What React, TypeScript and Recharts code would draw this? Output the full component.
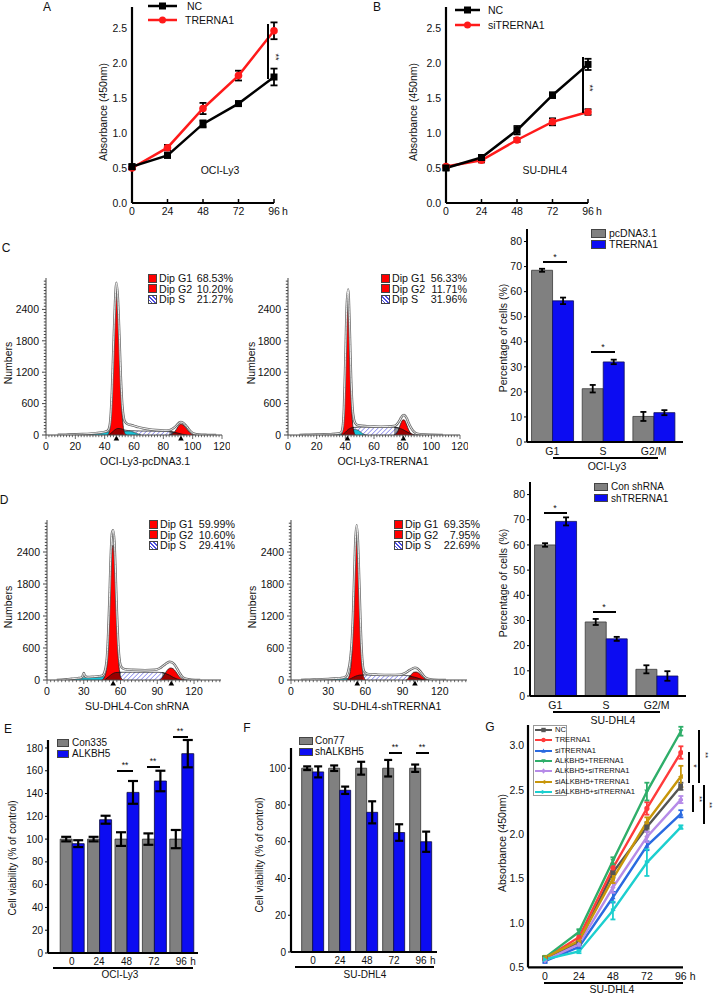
import React from 'react';
import {
  ComposedChart, LineChart, BarChart, Line, Bar, Area, XAxis, YAxis, ErrorBar, ReferenceDot,
} from 'recharts';

const FONT = '"Liberation Sans", Arial, Helvetica, sans-serif';

// A, B: absorbance (450nm) by hour
const hours = ['0', '24', '48', '72', '96'];
const absTicks = [0, 0.5, 1, 1.5, 2, 2.5];
const aNC = [0.52, 0.68, 1.13, 1.42, 1.8];
const aNCErr = [0.03, 0.03, 0.05, 0.03, 0.12];
const aTRERNA1 = [0.5, 0.79, 1.35, 1.82, 2.46];
const aTRERNA1Err = [0.02, 0.04, 0.08, 0.07, 0.12];
const bNC = [0.5, 0.65, 1.04, 1.54, 1.98];
const bNCErr = [0.03, 0.03, 0.06, 0.04, 0.08];
const bSiTRERNA1 = [0.52, 0.61, 0.9, 1.16, 1.3];
const bSiTRERNA1Err = [0.02, 0.03, 0.03, 0.05, 0.04];

// C, D: histogram legend percentages (G1, G2, S)
const c1Pct = [68.53, 10.2, 21.27];
const c2Pct = [56.33, 11.71, 31.96];
const d1Pct = [59.99, 10.6, 29.41];
const d2Pct = [69.35, 7.95, 22.69];

// DNA content histograms, [channel, count]
type Pt = [number, number];
const c1Total: Pt[] = [[8, 3], [15, 8], [20, 12], [25, 18], [30, 26], [35, 40], [40, 60], [42, 80], [43, 130], [44, 330], [45, 880], [46, 1700], [47, 2480], [48, 2910], [49, 2620], [50, 1920], [51, 1120], [52, 580], [53, 330], [54, 250], [56, 205], [58, 190], [60, 175], [63, 150], [66, 130], [70, 110], [75, 95], [80, 88], [84, 92], [86, 115], [88, 155], [90, 215], [91, 240], [92, 248], [93, 242], [95, 195], [97, 125], [99, 60], [101, 25], [104, 8], [110, 2], [116, 0]];
const c1G1: Pt[] = [[42, 0], [43, 40], [44, 250], [45, 800], [46, 1600], [47, 2350], [48, 2700], [49, 2400], [50, 1750], [51, 950], [52, 380], [53, 100], [54, 20], [55, 0]];
const c1G2: Pt[] = [[84, 0], [86, 20], [88, 70], [90, 160], [91, 195], [92, 210], [93, 200], [95, 150], [97, 80], [99, 25], [101, 0]];
const c1S: Pt[] = [[43, 0], [45, 50], [47, 100], [49, 125], [51, 120], [53, 100], [56, 85], [60, 80], [65, 76], [70, 74], [75, 72], [80, 70], [84, 66], [87, 55], [90, 35], [93, 14], [96, 0]];
const c1Debris: Pt[] = [[18, 0], [22, 8], [26, 18], [30, 28], [35, 40], [40, 55], [44, 62], [48, 60], [52, 70], [56, 75], [59, 60], [62, 30], [65, 0]];
const c1Peaks = [48, 92];

const c2Total: Pt[] = [[8, 2], [15, 5], [20, 8], [25, 12], [30, 16], [35, 28], [37, 45], [38, 120], [39, 480], [40, 1420], [41, 2480], [42, 2780], [43, 2100], [44, 1100], [45, 520], [46, 300], [47, 225], [48, 195], [50, 180], [55, 168], [60, 162], [65, 160], [70, 162], [74, 172], [76, 205], [78, 285], [79, 335], [80, 372], [81, 380], [82, 360], [83, 310], [84, 240], [86, 130], [88, 60], [90, 25], [95, 8], [100, 3], [108, 0]];
const c2G1: Pt[] = [[37, 0], [38, 60], [39, 400], [40, 1300], [41, 2300], [42, 2480], [43, 1750], [44, 800], [45, 250], [46, 60], [47, 0]];
const c2G2: Pt[] = [[74, 0], [76, 40], [77, 90], [78, 170], [79, 240], [80, 285], [81, 290], [82, 250], [83, 180], [84, 110], [85, 55], [87, 10], [88, 0]];
const c2S: Pt[] = [[38, 0], [40, 50], [42, 105], [44, 135], [46, 145], [50, 150], [55, 150], [60, 150], [65, 150], [70, 150], [74, 148], [77, 135], [80, 105], [83, 60], [86, 20], [89, 0]];
const c2Debris: Pt[] = [[28, 0], [32, 8], [36, 20], [40, 40], [43, 70], [45, 95], [47, 105], [49, 90], [51, 50], [53, 12], [55, 0]];
const c2Peaks = [41.5, 80.5];

const d1Total: Pt[] = [[8, 0], [12, 5], [16, 12], [20, 22], [25, 35], [28, 45], [29, 70], [30, 130], [31, 75], [33, 55], [38, 62], [42, 70], [45, 80], [47, 150], [49, 450], [50, 900], [51, 1550], [52, 2300], [53, 2750], [54, 2810], [55, 2600], [56, 2000], [57, 1300], [58, 750], [59, 420], [60, 280], [62, 215], [65, 195], [70, 190], [80, 185], [88, 190], [92, 220], [95, 270], [98, 320], [100, 340], [102, 330], [104, 290], [106, 220], [108, 140], [110, 70], [113, 25], [118, 6], [125, 0]];
const d1G1: Pt[] = [[45, 0], [47, 60], [49, 300], [50, 700], [51, 1300], [52, 2000], [53, 2450], [54, 2530], [55, 2300], [56, 1750], [57, 1050], [58, 500], [59, 200], [60, 60], [62, 0]];
const d1G2: Pt[] = [[92, 0], [94, 40], [96, 110], [98, 180], [100, 220], [101, 225], [103, 210], [105, 160], [107, 90], [109, 35], [111, 10], [113, 0]];
const d1S: Pt[] = [[47, 0], [50, 55], [53, 110], [56, 140], [60, 145], [70, 145], [80, 145], [90, 145], [94, 140], [97, 120], [100, 90], [103, 50], [106, 20], [110, 0]];
const d1Debris: Pt[] = [[12, 0], [16, 8], [20, 18], [25, 30], [30, 40], [35, 48], [40, 55], [45, 62], [48, 55], [50, 30], [52, 0]];
const d1Peaks = [54, 101.5];

const d2Total: Pt[] = [[8, 0], [15, 5], [20, 10], [25, 14], [30, 20], [35, 26], [40, 35], [44, 60], [46, 150], [48, 420], [49, 700], [50, 1200], [51, 1950], [52, 2650], [53, 2900], [54, 2600], [55, 1900], [56, 1150], [57, 560], [58, 260], [59, 160], [61, 120], [65, 105], [70, 100], [80, 95], [88, 100], [92, 130], [95, 175], [98, 215], [100, 230], [102, 215], [104, 170], [106, 110], [108, 55], [111, 20], [115, 5], [125, 0]];
const d2G1: Pt[] = [[45, 0], [47, 80], [49, 450], [50, 950], [51, 1700], [52, 2400], [53, 2660], [54, 2350], [55, 1650], [56, 900], [57, 380], [58, 120], [60, 0]];
const d2G2: Pt[] = [[93, 0], [95, 40], [97, 100], [99, 145], [101, 150], [103, 130], [105, 85], [107, 40], [109, 10], [111, 0]];
const d2S: Pt[] = [[46, 0], [49, 35], [52, 70], [55, 90], [58, 95], [65, 93], [75, 90], [85, 90], [91, 88], [95, 78], [98, 62], [101, 45], [104, 22], [108, 0]];
const d2Debris: Pt[] = [[15, 0], [20, 6], [25, 12], [30, 17], [35, 22], [40, 28], [44, 32], [47, 30], [49, 15], [51, 0]];
const d2Peaks = [53.5, 100];

const histYTicks = [0, 600, 1200, 1800, 2400];
const cHistXTicks = [0, 20, 40, 60, 80, 100, 120];
const dHistXTicks = [0, 30, 60, 90, 120];

// C, D bar charts: % of cells per phase
const phases = ['G1', 'S', 'G2/M'];
const pctTicks = [0, 10, 20, 30, 40, 50, 60, 70, 80];
const cPcDNA = [68.53, 21.27, 10.2];
const cPcDNAErr = [0.6, 1.5, 1.8];
const cTRERNA1 = [56.33, 31.96, 11.71];
const cTRERNA1Err = [1.3, 0.9, 1.0];
const dConShRNA = [59.99, 29.41, 10.6];
const dConShRNAErr = [0.7, 1.2, 1.6];
const dShTRERNA1 = [69.35, 22.69, 7.95];
const dShTRERNA1Err = [1.6, 0.8, 1.9];

// E, F: cell viability (% of control)
const eCon335 = [100, 100, 100, 100, 100];
const eCon335Err = [2, 2, 6, 5, 8];
const eALKBH5 = [96, 117, 141, 151, 175];
const eALKBH5Err = [3, 3.5, 10, 9, 12];
const fCon77 = [100, 100, 100, 100, 100];
const fCon77Err = [1, 1.5, 3.5, 4.5, 2];
const fShALKBH5 = [98, 88, 76, 65, 60];
const fShALKBH5Err = [3, 2, 6, 4.5, 5.5];

// G: absorbance, seven groups
const gHours = [0, 24, 48, 72, 96];
const gTicks = [0.5, 1, 1.5, 2, 2.5, 3];
const gNC = [0.6, 0.78, 1.57, 2.08, 2.54];
const gNCErr = [0.02, 0.03, 0.06, 0.05, 0.04];
const gTRERNA1 = [0.6, 0.84, 1.62, 2.29, 2.92];
const gTRERNA1Err = [0.02, 0.03, 0.05, 0.07, 0.07];
const gSiTRERNA1 = [0.57, 0.73, 1.29, 1.87, 2.23];
const gSiTRERNA1Err = [0.02, 0.02, 0.06, 0.05, 0.04];
const gAlkTRERNA1 = [0.61, 0.9, 1.7, 2.48, 3.16];
const gAlkTRERNA1Err = [0.02, 0.03, 0.04, 0.1, 0.05];
const gAlkSiTRERNA1 = [0.58, 0.76, 1.4, 1.97, 2.39];
const gAlkSiTRERNA1Err = [0.02, 0.02, 0.06, 0.06, 0.04];
const gSiAlkTRERNA1 = [0.61, 0.8, 1.5, 2.14, 2.65];
const gSiAlkTRERNA1Err = [0.02, 0.03, 0.05, 0.05, 0.12];
const gSiAlkSiTRERNA1 = [0.59, 0.68, 1.14, 1.68, 2.08];
const gSiAlkSiTRERNA1Err = [0.02, 0.02, 0.1, 0.15, 0.02];

const gSeries = [
  { key: 'nc', name: 'NC', vals: gNC, errs: gNCErr, color: '#555555', shape: 'square' },
  { key: 'tr', name: 'TRERNA1', vals: gTRERNA1, errs: gTRERNA1Err, color: '#ff3b3b', shape: 'circle' },
  { key: 'si', name: 'siTRERNA1', vals: gSiTRERNA1, errs: gSiTRERNA1Err, color: '#2a6ae0', shape: 'up' },
  { key: 'at', name: 'ALKBH5+TRERNA1', vals: gAlkTRERNA1, errs: gAlkTRERNA1Err, color: '#2fae6a', shape: 'down' },
  { key: 'as', name: 'ALKBH5+siTRERNA1', vals: gAlkSiTRERNA1, errs: gAlkSiTRERNA1Err, color: '#b68be8', shape: 'diamond' },
  { key: 'st', name: 'siALKBH5+TRERNA1', vals: gSiAlkTRERNA1, errs: gSiAlkTRERNA1Err, color: '#c8960a', shape: 'left' },
  { key: 'ss', name: 'siALKBH5+siTRERNA1', vals: gSiAlkSiTRERNA1, errs: gSiAlkSiTRERNA1Err, color: '#1ccfcf', shape: 'right' },
];

const GRAY = '#808080';
const BLUE = '#0c0cf2';

const range = (a: number, b: number, step: number) => {
  const r: number[] = [];
  for (let v = a; v <= b + 1e-9; v += step) r.push(+v.toFixed(4));
  return r;
};
const pts = (a: Pt[]) => a.map(([ch, n]) => ({ ch, n }));

function mark(shape: string, cx: number, cy: number, r: number, color: string, key?: any) {
  switch (shape) {
    case 'square':
      return <rect key={key} x={cx - r} y={cy - r} width={2 * r} height={2 * r} fill={color} />;
    case 'circle':
      return <circle key={key} cx={cx} cy={cy} r={r} fill={color} />;
    case 'up':
      return <polygon key={key} points={`${cx},${cy - r * 1.1} ${cx + r},${cy + r * 0.8} ${cx - r},${cy + r * 0.8}`} fill={color} />;
    case 'down':
      return <polygon key={key} points={`${cx},${cy + r * 1.1} ${cx + r},${cy - r * 0.8} ${cx - r},${cy - r * 0.8}`} fill={color} />;
    case 'left':
      return <polygon key={key} points={`${cx - r * 1.1},${cy} ${cx + r * 0.8},${cy - r} ${cx + r * 0.8},${cy + r}`} fill={color} />;
    case 'right':
      return <polygon key={key} points={`${cx + r * 1.1},${cy} ${cx - r * 0.8},${cy - r} ${cx - r * 0.8},${cy + r}`} fill={color} />;
    default:
      return <polygon key={key} points={`${cx},${cy - r * 1.2} ${cx + r},${cy} ${cx},${cy + r * 1.2} ${cx - r},${cy}`} fill={color} />;
  }
}

// ticks drawn by hand so label gaps and tick lengths can be set
const catTick = (o: { gap: number; size?: number; up?: number; hAfter?: number }) => (p: any) => {
  const v = String(p.payload.value);
  const fs = o.size ?? 10.5;
  return (
    <g>
      {o.up ? <line x1={p.x} x2={p.x} y1={p.y} y2={p.y - o.up} stroke="#000" strokeWidth={1.5} /> : null}
      <text x={p.x} y={p.y + o.gap} dy="0.71em" textAnchor="middle" fontSize={fs} fill="#111">{v}</text>
      {o.hAfter && v === '96' ? (
        <text x={p.x + o.hAfter} y={p.y + o.gap} dy="0.71em" textAnchor="start" fontSize={fs} fill="#111">h</text>
      ) : null}
    </g>
  );
};

const valTick = (o: { gap: number; fmt?: (v: number) => string; size?: number; len?: number; majors?: number[]; minorLen?: number; stroke?: string }) => (p: any) => {
  const v = Number(p.payload.value);
  const major = !o.majors || o.majors.includes(v);
  const len = major ? o.len ?? 0 : o.minorLen ?? 0;
  return (
    <g>
      {len ? <line x1={p.x} x2={p.x - len} y1={p.y} y2={p.y} stroke={o.stroke ?? '#000'} strokeWidth={1} /> : null}
      {major ? (
        <text x={p.x - o.gap} y={p.y} dy="0.355em" textAnchor="end" fontSize={o.size ?? 10.5} fill="#111">
          {o.fmt ? o.fmt(v) : v}
        </text>
      ) : null}
    </g>
  );
};

const histXTick = (majors: number[]) => (p: any) => {
  const v = Number(p.payload.value);
  const m = majors.includes(v);
  return (
    <g>
      <line x1={p.x} x2={p.x} y1={p.y} y2={p.y + (m ? 4 : 2.2)} stroke="#444" strokeWidth={0.8} />
      {m ? <text x={p.x} y={p.y + 8} dy="0.71em" textAnchor="middle" fontSize={10.5} fill="#111">{v}</text> : null}
    </g>
  );
};

// HTML helpers for labels and annotations
function T({ x, y, s = 10.5, a = 'm', r = 0, children }: any) {
  const tx = a === 's' ? '0' : a === 'e' ? '-100%' : '-50%';
  return (
    <div style={{ position: 'absolute', left: x, top: y, transform: `translate(${tx},-50%)${r ? ` rotate(${r}deg)` : ''}`, fontSize: s, lineHeight: 1, whiteSpace: 'nowrap' }}>
      {children}
    </div>
  );
}
const HL = ({ x1, x2, y, w = 1.3 }: any) => (
  <div style={{ position: 'absolute', left: x1, top: y - w / 2, width: x2 - x1, height: w, background: '#000' }} />
);
const VL = ({ x, y1, y2, w = 1.3 }: any) => (
  <div style={{ position: 'absolute', left: x - w / 2, top: y1, width: w, height: y2 - y1, background: '#000' }} />
);
const Swatch = ({ x, y, w = 13, h = 8, fill }: any) => (
  <div style={{ position: 'absolute', left: x, top: y - h / 2, width: w, height: h, background: fill, boxSizing: 'border-box', border: '1px solid #444' }} />
);
function LineKey({ x1, x2, y, color, shape, r = 3.5, sw = 2.5 }: any) {
  const w = x2 - x1;
  return (
    <svg style={{ position: 'absolute', left: x1, top: y - 6 }} width={w} height={12}>
      <line x1={0} x2={w} y1={6} y2={6} stroke={color} strokeWidth={sw} />
      {mark(shape, w / 2, 6, r, color)}
    </svg>
  );
}

function AbsPanel({ px, py, nc, ncErr, trt, trtErr }: any) {
  const pw = 142, ph = 196, yw = 40, xh = 26, mt = 8, mr = 14;
  const data = hours.map((h, i) => ({ h, nc: nc[i], ncE: ncErr[i], t: trt[i], tE: trtErr[i] }));
  return (
    <div style={{ position: 'absolute', left: px - yw, top: py - mt }}>
      <LineChart width={yw + pw + mr} height={mt + ph + xh} data={data} margin={{ top: mt, right: mr, left: 0, bottom: 0 }}>
        <XAxis dataKey="h" height={xh} interval={0} tickLine={false} tickSize={0} tickMargin={0}
          axisLine={{ stroke: '#000', strokeWidth: 2.2 }} tick={catTick({ gap: 5, up: 4, hAfter: 8 })} />
        <YAxis type="number" domain={[0, 2.8]} ticks={absTicks} width={yw} interval={0} tickLine={false} tickSize={0} tickMargin={0}
          axisLine={{ stroke: '#000', strokeWidth: 2.2 }} tick={valTick({ gap: 5, fmt: (v) => v.toFixed(1) })} />
        <Line dataKey="t" stroke="#ff1a1a" strokeWidth={2.5} isAnimationActive={false}
          dot={(p: any) => mark('circle', p.cx, p.cy, 3.8, '#ff1a1a', p.index)}>
          <ErrorBar dataKey="tE" width={3.5} strokeWidth={1.8} stroke="#000" />
        </Line>
        <Line dataKey="nc" stroke="#000" strokeWidth={2.5} isAnimationActive={false}
          dot={(p: any) => mark('square', p.cx, p.cy, 3.5, '#000', p.index)}>
          <ErrorBar dataKey="ncE" width={3.5} strokeWidth={1.8} stroke="#000" />
        </Line>
      </LineChart>
    </div>
  );
}

function Hist({ px, py, pw, ph, xMax, majors, minorStep, total, g1, g2, s, debris, peaks }: any) {
  const yw = 44, xh = 24, mt = 6, mr = 8;
  const xt = range(0, xMax, minorStep);
  const yt = range(0, 2940, 60);
  const between = (a: Pt[], lo: number, hi: number) => a.filter(([c]) => c >= lo && c <= hi);
  const sUnderG1 = between(s, g1[0][0], g1[g1.length - 1][0]);
  const sUnderG2 = between(s, g2[0][0], g2[g2.length - 1][0]);
  const area = (d: Pt[], fill: string, stroke: string, sw: number, op = 1) => (
    <Area data={pts(d)} dataKey="n" type="monotone" fill={fill} fillOpacity={op} stroke={stroke} strokeWidth={sw}
      isAnimationActive={false} dot={false} activeDot={false} />
  );
  return (
    <div style={{ position: 'absolute', left: px - yw, top: py - mt }}>
      <ComposedChart width={yw + pw + mr} height={mt + ph + xh} margin={{ top: mt, right: mr, left: 0, bottom: 0 }}>
        <XAxis type="number" dataKey="ch" domain={[0, xMax]} ticks={xt} interval={0} height={xh} allowDataOverflow
          tickLine={false} tickSize={0} tickMargin={0} axisLine={{ stroke: '#444', strokeWidth: 1 }} tick={histXTick(majors)} />
        <YAxis type="number" domain={[0, 3000]} ticks={yt} interval={0} width={yw} allowDataOverflow
          tickLine={false} tickSize={0} tickMargin={0} axisLine={{ stroke: '#444', strokeWidth: 1 }}
          tick={valTick({ gap: 7, majors: histYTicks, len: 4, minorLen: 2.2, stroke: '#444' })} />
        {area(s, 'url(#hatch)', '#333', 0.8)}
        {area(debris, '#16c4d8', '#333', 0.6)}
        {area(g1, '#ff0000', '#222', 0.8)}
        {area(g2, '#ff0000', '#222', 0.8)}
        {area(sUnderG1, '#000', '#111', 0.8, 0.4)}
        {area(sUnderG2, '#000', '#111', 0.8, 0.4)}
        <Line data={pts(total)} dataKey="n" type="monotone" stroke="#6a6a6a" strokeWidth={2.5} dot={false} activeDot={false} isAnimationActive={false} />
        <Line data={pts(total)} dataKey="n" type="monotone" stroke="#ffffff" strokeWidth={0.9} dot={false} activeDot={false} isAnimationActive={false} />
        {peaks.map((c: number) => (
          <ReferenceDot key={c} x={c} y={0} r={0} ifOverflow="visible"
            shape={(q: any) => <path d={`M${q.cx},${q.cy + 0.5} L${q.cx + 2.8},${q.cy + 5.5} L${q.cx - 2.8},${q.cy + 5.5} Z`} fill="#000" />} />
        ))}
      </ComposedChart>
    </div>
  );
}

function HistLegend({ x, y, right, pct }: any) {
  const rows = [
    { label: 'Dip G1', fill: '#ff0000', v: pct[0] },
    { label: 'Dip G2', fill: '#ff0000', v: pct[1] },
    { label: 'Dip S', fill: 'repeating-linear-gradient(45deg,#fff 0 1.5px,#4d4de0 1.5px 2.7px)', v: pct[2] },
  ];
  return (
    <>
      {rows.map((r, i) => (
        <React.Fragment key={r.label}>
          <Swatch x={x} y={y + i * 10.7} w={9} h={9} fill={r.fill} />
          <T x={x + 11} y={y + i * 10.7} a="s" s={10.7}>{r.label}</T>
          <T x={right} y={y + i * 10.7} a="e" s={10.7}>{r.v.toFixed(2)}%</T>
        </React.Fragment>
      ))}
    </>
  );
}

function PhaseBars({ px, py, ph, ctrl, ctrlErr, trt, trtErr }: any) {
  const pw = 156, yw = 40, xh = 24, mt = 8, mr = 8;
  const data = phases.map((p, i) => ({ p, a: ctrl[i], ae: ctrlErr[i], b: trt[i], be: trtErr[i] }));
  return (
    <div style={{ position: 'absolute', left: px - yw, top: py - mt }}>
      <BarChart width={yw + pw + mr} height={mt + ph + xh} data={data} margin={{ top: mt, right: mr, left: 0, bottom: 0 }}
        barGap={0} barCategoryGap="9%">
        <XAxis dataKey="p" height={xh} interval={0} padding={{ left: 0, right: 4 }} tickLine={false} tickSize={0} tickMargin={0}
          axisLine={{ stroke: '#000', strokeWidth: 2 }} tick={catTick({ gap: 6 })} />
        <YAxis type="number" domain={[0, 85]} ticks={pctTicks} width={yw} interval={0} tickLine={false} tickSize={0} tickMargin={0}
          axisLine={{ stroke: '#000', strokeWidth: 2 }} tick={valTick({ gap: 5, len: 3 })} />
        <Bar dataKey="a" fill={GRAY} stroke="#3a3a3a" strokeWidth={0.8} isAnimationActive={false}>
          <ErrorBar dataKey="ae" width={3} strokeWidth={1.8} stroke="#000" />
        </Bar>
        <Bar dataKey="b" fill={BLUE} stroke="#10105a" strokeWidth={0.8} isAnimationActive={false}>
          <ErrorBar dataKey="be" width={3} strokeWidth={1.8} stroke="#000" />
        </Bar>
      </BarChart>
    </div>
  );
}

function ViabilityBars({ px, py, pw, ph, top, ticks, padL, padR, ctrl, ctrlErr, trt, trtErr, cap }: any) {
  const yw = 40, xh = 24, mt = 8, mr = 14;
  const data = hours.map((h, i) => ({ h, a: ctrl[i], ae: ctrlErr[i], b: trt[i], be: trtErr[i] }));
  return (
    <div style={{ position: 'absolute', left: px - yw, top: py - mt }}>
      <BarChart width={yw + pw + mr} height={mt + ph + xh} data={data} margin={{ top: mt, right: mr, left: 0, bottom: 0 }}
        barGap={0} barCategoryGap="8%">
        <XAxis dataKey="h" height={xh} interval={0} padding={{ left: padL, right: padR }} tickLine={false} tickSize={0} tickMargin={0}
          axisLine={{ stroke: '#000', strokeWidth: 2.2 }} tick={catTick({ gap: 5, size: 10, hAfter: 9 })} />
        <YAxis type="number" domain={[0, top]} ticks={ticks} width={yw} interval={0} tickLine={false} tickSize={0} tickMargin={0}
          axisLine={{ stroke: '#000', strokeWidth: 2.2 }} tick={valTick({ gap: 5, len: 3, size: 10 })} />
        <Bar dataKey="a" fill={GRAY} stroke="#333" strokeWidth={0.8} isAnimationActive={false}>
          <ErrorBar dataKey="ae" width={cap} strokeWidth={2.2} stroke="#000" />
        </Bar>
        <Bar dataKey="b" fill={BLUE} stroke="#0a0a40" strokeWidth={0.8} isAnimationActive={false}>
          <ErrorBar dataKey="be" width={cap} strokeWidth={2.2} stroke="#000" />
        </Bar>
      </BarChart>
    </div>
  );
}

function GPanel() {
  const px = 528, py = 724.6, pw = 155, ph = 242.4, yw = 40, xh = 24, mt = 8, mr = 14;
  const data = gHours.map((h, i) => {
    const row: any = { h };
    gSeries.forEach((s) => { row[s.key] = s.vals[i]; row[s.key + 'E'] = s.errs[i]; });
    return row;
  });
  return (
    <div style={{ position: 'absolute', left: px - yw, top: py - mt }}>
      <LineChart width={yw + pw + mr} height={mt + ph + xh} data={data} margin={{ top: mt, right: mr, left: 0, bottom: 0 }}>
        <XAxis type="number" dataKey="h" domain={[-12, 97.5]} ticks={gHours} interval={0} height={xh} allowDataOverflow
          tickLine={false} tickSize={0} tickMargin={0} axisLine={{ stroke: '#000', strokeWidth: 2.2 }} tick={catTick({ gap: 5, hAfter: 9 })} />
        <YAxis type="number" domain={[0.5, 3.23]} ticks={gTicks} width={yw} interval={0} allowDataOverflow
          tickLine={false} tickSize={0} tickMargin={0} axisLine={{ stroke: '#000', strokeWidth: 2.2 }}
          tick={valTick({ gap: 4, fmt: (v) => v.toFixed(1) })} />
        {gSeries.map((s) => (
          <Line key={s.key} dataKey={s.key} stroke={s.color} strokeWidth={2.4} isAnimationActive={false}
            dot={(p: any) => mark(s.shape, p.cx, p.cy, 2.6, s.color, p.index)}>
            <ErrorBar dataKey={s.key + 'E'} width={2.5} strokeWidth={1.8} stroke={s.color} />
          </Line>
        ))}
      </LineChart>
    </div>
  );
}

export default function App() {
  return (
    <div style={{ position: 'relative', width: 714, height: 994, background: '#fff', fontFamily: FONT, color: '#111', overflow: 'hidden' }}>
      <style>{'body{margin:0}'}</style>
      <svg width={0} height={0} style={{ position: 'absolute' }}>
        <defs>
          <pattern id="hatch" width={3.2} height={3.2} patternUnits="userSpaceOnUse" patternTransform="rotate(45)">
            <rect width={3.2} height={3.2} fill="#ffffff" />
            <line x1={0} y1={0} x2={0} y2={3.2} stroke="#5a5ae6" strokeWidth={1.1} />
          </pattern>
        </defs>
      </svg>

      {/* A */}
      <T x={47} y={7} s={12}>A</T>
      <AbsPanel px={132} py={6.5} nc={aNC} ncErr={aNCErr} trt={aTRERNA1} trtErr={aTRERNA1Err} />
      <LineKey x1={148} x2={177} y={5.5} color="#000" shape="square" />
      <T x={187} y={6} a="s">NC</T>
      <LineKey x1={148} x2={177} y={20} color="#ff1a1a" shape="circle" />
      <T x={185} y={20} a="s">TRERNA1</T>
      <VL x={268} y1={24} y2={79} />
      <T x={275} y={57} s={9} r={90}>**</T>
      <T x={220} y={170}>OCI-Ly3</T>
      <T x={103} y={112} r={-90}>Absorbance (450nm)</T>

      {/* B */}
      <T x={377} y={7} s={12}>B</T>
      <AbsPanel px={446} py={7} nc={bNC} ncErr={bNCErr} trt={bSiTRERNA1} trtErr={bSiTRERNA1Err} />
      <LineKey x1={455} x2={480} y={10} color="#000" shape="square" />
      <T x={488} y={10} a="s">NC</T>
      <LineKey x1={455} x2={480} y={25} color="#ff1a1a" shape="circle" />
      <T x={488} y={25} a="s">siTRERNA1</T>
      <VL x={583} y1={57} y2={113} />
      <T x={589} y={88} s={9} r={90}>**</T>
      <T x={545} y={170}>SU-DHL4</T>
      <T x={413} y={112} r={-90}>Absorbance (450nm)</T>

      {/* C */}
      <T x={6} y={248} s={12}>C</T>
      <Hist px={46} py={278} pw={176} ph={157} xMax={120} majors={cHistXTicks} minorStep={2}
        total={c1Total} g1={c1G1} g2={c1G2} s={c1S} debris={c1Debris} peaks={c1Peaks} />
      <HistLegend x={148} y={278} right={233} pct={c1Pct} />
      <T x={8} y={363} r={-90}>Numbers</T>
      <T x={145} y={461}>OCI-Ly3-pcDNA3.1</T>
      <Hist px={288} py={278} pw={172} ph={157} xMax={120} majors={cHistXTicks} minorStep={2}
        total={c2Total} g1={c2G1} g2={c2G2} s={c2S} debris={c2Debris} peaks={c2Peaks} />
      <HistLegend x={381} y={278} right={467} pct={c2Pct} />
      <T x={251} y={363} r={-90}>Numbers</T>
      <T x={383} y={461}>OCI-Ly3-TRERNA1</T>

      <PhaseBars px={527} py={229} ph={213} ctrl={cPcDNA} ctrlErr={cPcDNAErr} trt={cTRERNA1} trtErr={cTRERNA1Err} />
      <Swatch x={591} y={233} w={15} h={9} fill={GRAY} />
      <T x={609} y={233} a="s">pcDNA3.1</T>
      <Swatch x={591} y={244} w={15} h={9} fill={BLUE} />
      <T x={609} y={244} a="s">TRERNA1</T>
      <HL x1={543} x2={567} y={262} />
      <T x={555} y={257} s={9}>*</T>
      <HL x1={591} x2={615} y={352} />
      <T x={603} y={347} s={9}>*</T>
      <HL x1={553} x2={658} y={458} />
      <T x={607} y={466}>OCI-Ly3</T>
      <T x={503} y={338} r={-90}>Percentage of cells (%)</T>

      {/* D */}
      <T x={4} y={500} s={12}>D</T>
      <Hist px={47} py={520} pw={174} ph={160} xMax={142} majors={dHistXTicks} minorStep={3}
        total={d1Total} g1={d1G1} g2={d1G2} s={d1S} debris={d1Debris} peaks={d1Peaks} />
      <HistLegend x={149} y={524} right={235} pct={d1Pct} />
      <T x={8} y={607} r={-90}>Numbers</T>
      <T x={137} y={706}>SU-DHL4-Con shRNA</T>
      <Hist px={291} py={520} pw={176} ph={160} xMax={142} majors={dHistXTicks} minorStep={3}
        total={d2Total} g1={d2G1} g2={d2G2} s={d2S} debris={d2Debris} peaks={d2Peaks} />
      <HistLegend x={394} y={524} right={480} pct={d2Pct} />
      <T x={252} y={607} r={-90}>Numbers</T>
      <T x={387} y={706}>SU-DHL4-shTRERNA1</T>

      <PhaseBars px={530} py={482} ph={214} ctrl={dConShRNA} ctrlErr={dConShRNAErr} trt={dShTRERNA1} trtErr={dShTRERNA1Err} />
      <Swatch x={594} y={487} w={14} h={8} fill={GRAY} />
      <T x={611} y={487} a="s" s={10}>Con shRNA</T>
      <Swatch x={594} y={498} w={14} h={8} fill={BLUE} />
      <T x={611} y={498.5} a="s" s={10}>shTRERNA1</T>
      <HL x1={544} x2={567} y={513} />
      <T x={555} y={508} s={9}>*</T>
      <HL x1={593} x2={616} y={612} />
      <T x={604} y={607} s={9}>*</T>
      <HL x1={553} x2={660} y={712} />
      <T x={613} y={720}>SU-DHL4</T>
      <T x={503} y={583} r={-90}>Percentage of cells (%)</T>

      {/* E */}
      <T x={8} y={729} s={12}>E</T>
      <ViabilityBars px={47.5} py={740} pw={150} ph={213} top={187} ticks={range(0, 180, 20)} padL={10} padR={3}
        ctrl={eCon335} ctrlErr={eCon335Err} trt={eALKBH5} trtErr={eALKBH5Err} cap={5} />
      <Swatch x={57} y={743} w={12} h={8} fill={GRAY} />
      <T x={72} y={743} a="s" s={10}>Con335</T>
      <Swatch x={57} y={754} w={12} h={8} fill={BLUE} />
      <T x={72} y={754} a="s" s={10}>ALKBH5</T>
      <HL x1={117} x2={133} y={771} />
      <T x={125} y={765} s={8.5}>**</T>
      <HL x1={147} x2={160} y={767} />
      <T x={153} y={761} s={8.5}>**</T>
      <HL x1={173} x2={188} y={737} />
      <T x={180} y={731} s={8.5}>**</T>
      <HL x1={53} x2={193} y={968} />
      <T x={120} y={975} s={10}>OCI-Ly3</T>
      <T x={13} y={858} s={10} r={-90}>Cell viability (% of control)</T>

      {/* F */}
      <T x={247} y={728} s={12}>F</T>
      <ViabilityBars px={291} py={748} pw={146} ph={204} top={111} ticks={range(0, 100, 20)} padL={8.5} padR={2.5}
        ctrl={fCon77} ctrlErr={fCon77Err} trt={fShALKBH5} trtErr={fShALKBH5Err} cap={4} />
      <Swatch x={299} y={741} w={14} h={8} fill={GRAY} />
      <T x={315} y={741} a="s" s={10}>Con77</T>
      <Swatch x={299} y={752} w={14} h={8} fill={BLUE} />
      <T x={315} y={752} a="s" s={10}>shALKBH5</T>
      <HL x1={389} x2={402} y={753} />
      <T x={395} y={747} s={8.5}>**</T>
      <HL x1={416} x2={429} y={753} />
      <T x={422} y={747} s={8.5}>**</T>
      <HL x1={295} x2={434} y={967} />
      <T x={365} y={975} s={10}>SU-DHL4</T>
      <T x={260} y={855} s={10} r={-90}>Cell viability (% of control)</T>

      {/* G */}
      <T x={490} y={727} s={12}>G</T>
      <GPanel />
      <div style={{ position: 'absolute', left: 533, top: 725, width: 34, height: 71, border: '1px solid #999', boxSizing: 'border-box' }} />
      {gSeries.map((s, i) => (
        <React.Fragment key={s.key}>
          <LineKey x1={535} x2={552} y={730 + i * 10.3} color={s.color} shape={s.shape} r={2.2} sw={2} />
          <T x={555} y={730 + i * 10.3} a="s" s={7.6}>{s.name}</T>
        </React.Fragment>
      ))}
      <VL x={689} y1={752} y2={783} />
      <T x={694} y={766} s={8.5} r={90}>*</T>
      <VL x={699} y1={730} y2={783} />
      <T x={705} y={755} s={8} r={90}>**</T>
      <VL x={693} y1={785} y2={812} />
      <T x={698.5} y={799} s={8} r={90}>**</T>
      <VL x={704} y1={785} y2={824} />
      <T x={708.5} y={805} s={8} r={90}>**</T>
      <HL x1={544} x2={683} y={983} />
      <T x={612} y={988.5}>SU-DHL4</T>
      <T x={502} y={843} r={-90}>Absorbance (450nm)</T>
    </div>
  );
}
